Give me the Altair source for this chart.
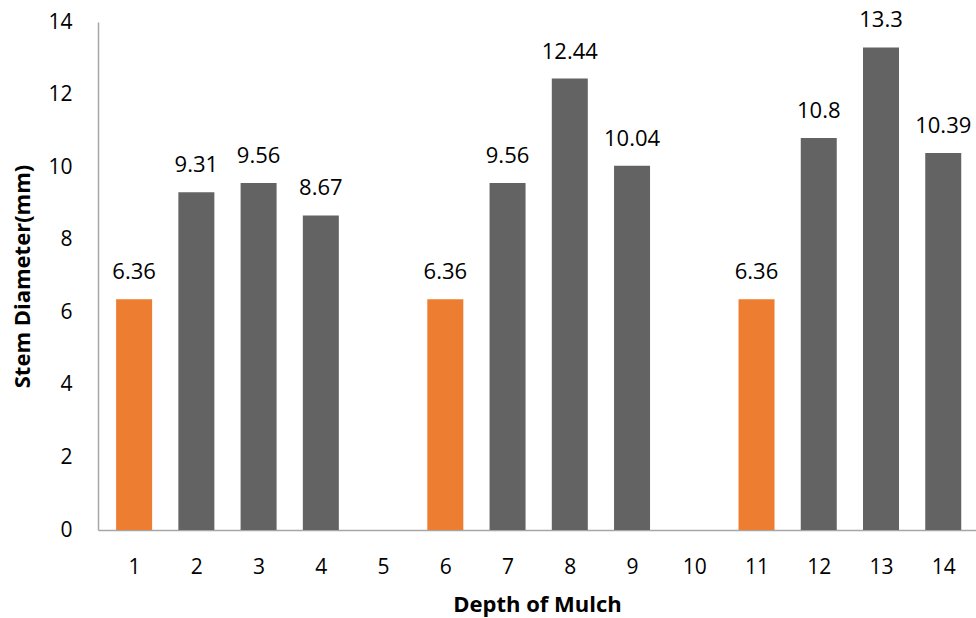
import altair as alt
import pandas as pd

# Stem diameter (mm) by depth of mulch; depths 5 and 10 have no bar
depths = [1, 2, 3, 4, 6, 7, 8, 9, 11, 12, 13, 14]
diameters = [6.36, 9.31, 9.56, 8.67, 6.36, 9.56, 12.44, 10.04, 6.36, 10.8, 13.3, 10.39]
labels = ["6.36", "9.31", "9.56", "8.67", "6.36", "9.56", "12.44", "10.04", "6.36", "10.8", "13.3", "10.39"]
groups = ["control", "mulch", "mulch", "mulch", "control", "mulch", "mulch", "mulch",
          "control", "mulch", "mulch", "mulch"]
x_ticks = list(range(1, 15))
y_ticks = [0, 2, 4, 6, 8, 10, 12, 14]

df = pd.DataFrame({"depth": depths, "diameter": diameters, "label": labels, "group": groups})

FONT = "Open Sans"
AXIS_GRAY = "#A6A6A6"

x_enc = alt.X(
    "depth:Q",
    scale=alt.Scale(domain=[0.5, 14.446], nice=False, zero=False),
    axis=alt.Axis(
        title="Depth of Mulch",
        values=x_ticks,
        format="d",
        ticks=False,
        tickSize=0,
        grid=False,
        domainColor=AXIS_GRAY,
        domainWidth=1.5,
        labelFont=FONT,
        labelFontSize=21,
        labelColor="#000000",
        labelPadding=26,
        labelFlush=False,
        labelOverlap=False,
        titleFont=FONT,
        titleFontSize=22,
        titleFontWeight="bold",
        titleColor="#000000",
        titleBaseline="middle",
        titleY=74,
    ),
)

y_enc = alt.Y(
    "diameter:Q",
    scale=alt.Scale(domain=[0, 14], nice=False),
    axis=alt.Axis(
        title="Stem Diameter(mm)",
        values=y_ticks,
        ticks=False,
        tickSize=0,
        grid=False,
        domainColor=AXIS_GRAY,
        domainWidth=1.5,
        labelFont=FONT,
        labelFontSize=21,
        labelColor="#000000",
        labelPadding=26,
        labelFlush=False,
        labelOverlap=False,
        titleFont=FONT,
        titleFontSize=22,
        titleFontWeight="bold",
        titleColor="#000000",
        titleAngle=270,
        titleAlign="center",
        titleBaseline="middle",
        titleX=-76,
        titleY=254,
    ),
)

color_enc = alt.Color(
    "group:N",
    scale=alt.Scale(domain=["control", "mulch"], range=["#ED7D31", "#636363"]),
    legend=None,
)

bars = alt.Chart(df).mark_bar(size=36).encode(x=x_enc, y=y_enc, color=color_enc)

text = alt.Chart(df).mark_text(
    font=FONT, fontSize=22, color="#000000", baseline="alphabetic", align="center", dy=-20
).encode(x="depth:Q", y="diameter:Q", text="label:N")

chart = (
    alt.layer(bars, text)
    .properties(
        width=878,
        height=508,
        autosize=alt.AutoSizeParams(type="none"),
        padding={"left": 98, "top": 22, "right": 0, "bottom": 88},
        background="#FFFFFF",
    )
    .configure_view(stroke=None)
)

chart.save("out.html", embed_options={"renderer": "svg", "actions": False})
